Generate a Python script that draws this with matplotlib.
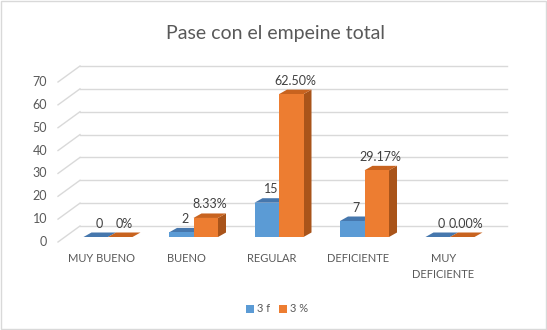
import matplotlib
matplotlib.use("Agg")
import matplotlib.pyplot as plt
from matplotlib.patches import Polygon, Rectangle, Patch

plt.rcParams['font.family'] = ['Lato', 'DejaVu Sans']

categories = ['MUY BUENO', 'BUENO', 'REGULAR', 'DEFICIENTE', 'MUY\nDEFICIENTE']
freq = [0, 2, 15, 7, 0]
freq_labels = ['0', '2', '15', '7', '0']
pct = [0, 8.33, 62.5, 29.17, 0]
pct_labels = ['0%', '8.33%', '62.50%', '29.17%', '0.00%']
yticks = [0, 10, 20, 30, 40, 50, 60, 70]
series_names = ['3 f', '3 %']

W, H = 547, 330
fig = plt.figure(figsize=(W / 100, H / 100), dpi=100)

# plot area in pixels (front plane)
px_left, px_right = 58, 507
px_zero, px_top = 242, 60
x0_px, step_px = 108, 85.5
ppu = (242 - 82) / 70.0  # pixels per value unit

ax = fig.add_axes([px_left / W, (H - px_zero) / H, (px_right - px_left) / W, (px_zero - px_top) / H])
xmin = (px_left - x0_px) / step_px
xmax = (px_right - x0_px) / step_px
ax.set_xlim(xmin, xmax)
ax.set_ylim(0, (px_zero - px_top) / ppu)
ax.axis('off')

# wall depth
DX = 22 / step_px
DY = 16 / ppu
grid_c = '#D9D9D9'
txt_c = '#595959'
for v in yticks:
    ax.plot([xmin + DX, xmax], [v + DY, v + DY], color=grid_c, lw=1, zorder=0, clip_on=False)
    ax.plot([xmin, xmin + DX], [v, v + DY], color=grid_c, lw=1, zorder=0, clip_on=False)
    ax.text(xmin - 11 / step_px, v, str(v), ha='right', va='center', fontsize=9, color=txt_c)

# bars
bw = 24.5 / step_px
bdx = 8 / step_px
bdy = 4.5 / ppu
base = 5 / ppu
styles = [('#5B9BD5', '#4677AD', '#3D6A99'), ('#ED7D31', '#C8631F', '#A9541A')]

def draw_bar(xl, val, cols, z):
    front, top_c, side_c = cols
    xr = xl + bw
    t = base + val
    ax.add_patch(Polygon([(xr, base), (xr + bdx, base + bdy), (xr + bdx, t + bdy), (xr, t)],
                         closed=True, facecolor=side_c, edgecolor='none', zorder=z))
    ax.add_patch(Polygon([(xl, t), (xl + bdx, t + bdy), (xr + bdx, t + bdy), (xr, t)],
                         closed=True, facecolor=top_c, edgecolor='none', zorder=z))
    if val > 0:
        ax.bar(xl, val, width=bw, bottom=base, align='edge', color=front, zorder=z, linewidth=0)

for i in range(len(categories)):
    draw_bar(i - bw, freq[i], styles[0], 2 + 2 * i)
    draw_bar(i, pct[i], styles[1], 3 + 2 * i)
    ax.text(i - bw / 2 + bdx / 2, base + freq[i] + bdy + 9 / ppu, freq_labels[i],
            ha='center', va='center', fontsize=9, color='#404040', zorder=20)
    ax.text(i + bw / 2 + bdx / 2, base + pct[i] + bdy + 9 / ppu, pct_labels[i],
            ha='center', va='center', fontsize=9, color='#404040', zorder=20)
    ax.text(i - 0.08, -(253 - px_zero) / ppu, categories[i], ha='center', va='top',
            fontsize=8, color=txt_c, linespacing=1.55, clip_on=False)

fig.text(275 / W, 1 - 33 / H, 'Pase con el empeine total', ha='center', va='center',
         fontsize=14, color=txt_c)

handles = [Patch(facecolor=styles[0][0]), Patch(facecolor=styles[1][0])]
fig.legend(handles, series_names, loc='center', bbox_to_anchor=(277 / W, 1 - 309 / H),
           ncol=2, frameon=False, fontsize=8, handlelength=0.7, handleheight=0.7,
           handletextpad=0.3, columnspacing=0.8, labelcolor=txt_c)

fig.add_artist(Rectangle((0.002, 0.003), 0.996, 0.994, transform=fig.transFigure,
                         fill=False, edgecolor='#D9D9D9', lw=1))

fig.savefig('out.png', dpi=100, facecolor='white')
